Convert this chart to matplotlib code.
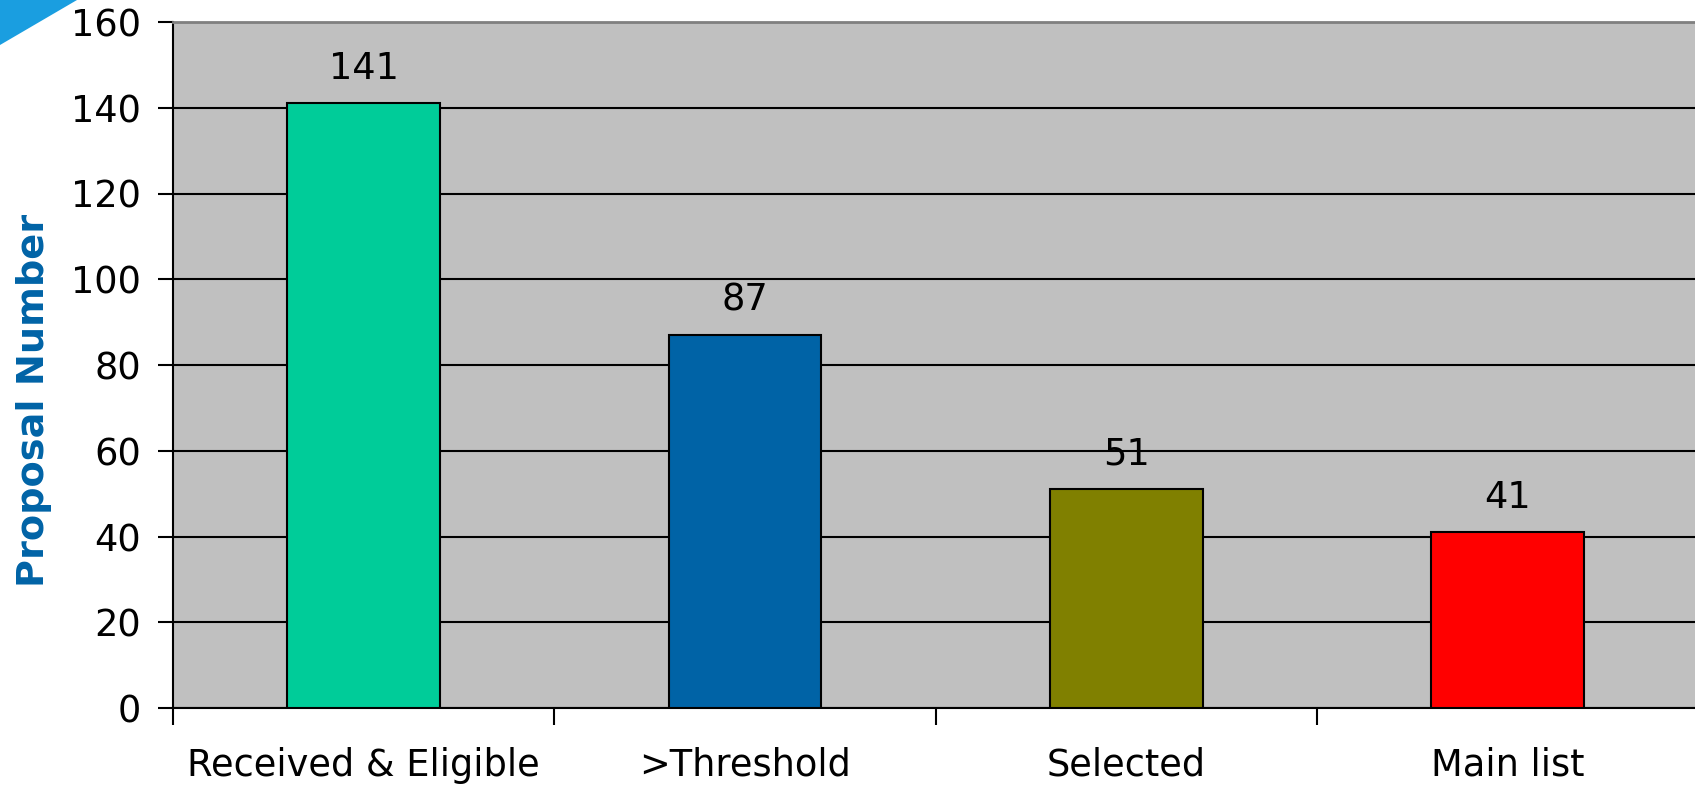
import matplotlib
matplotlib.use("Agg")
import matplotlib.pyplot as plt
from matplotlib.patches import Polygon

categories = ["Received & Eligible", ">Threshold", "Selected", "Main list"]
values = [141, 87, 51, 41]
colors = ["#00CC99", "#0063A6", "#808000", "#FF0000"]
yticks = [0, 20, 40, 60, 80, 100, 120, 140, 160]

fig = plt.figure(figsize=(16.95, 7.86), dpi=100)
ax = fig.add_axes([173/1695, 78/786, 1 - 173/1695 + 0.002, (708-22)/786])
ax.set_facecolor("#C0C0C0")

x = list(range(len(categories)))
ax.bar(x, values, width=0.4, color=colors, edgecolor="black", linewidth=1.5, zorder=3)
for xi, v in zip(x, values):
    ax.annotate(str(v), (xi, v), xytext=(0, 12), textcoords="offset points",
                ha="center", va="bottom", fontsize=26.5, color="black")

ax.set_xlim(-0.5, 3.5)
ax.set_ylim(0, 160)
ax.set_yticks(yticks)
ax.set_yticklabels([str(t) for t in yticks], fontsize=26.5)
ax.yaxis.grid(True, color="black", linewidth=1.5, zorder=1)
ax.set_axisbelow(True)

ax.set_xticks(x)
ax.set_xticklabels(categories, fontsize=26.5)
ax.tick_params(axis="x", which="major", length=0, pad=28)
ax.set_xticks([-0.5, 0.5, 1.5, 2.5], minor=True)
ax.tick_params(axis="x", which="minor", length=12, width=1.5, direction="out")
ax.tick_params(axis="y", length=11, width=1.5, direction="out", pad=12)

ax.spines["top"].set_color("#808080")
ax.spines["top"].set_linewidth(2)
ax.spines["right"].set_visible(False)
ax.spines["left"].set_linewidth(1.5)
ax.spines["bottom"].set_linewidth(1.5)

ax.set_ylabel("Proposal Number", fontsize=27.5, fontweight="heavy", color="#0063A6")
ax.yaxis.set_label_coords(-0.079, 0.449)

tri = Polygon([[0, 1], [77/1695, 1], [0, 1 - 45/786]], closed=True,
              transform=fig.transFigure, facecolor="#1A9EE0", edgecolor="none")
fig.patches.append(tri)

fig.savefig("out.png", dpi=100)
